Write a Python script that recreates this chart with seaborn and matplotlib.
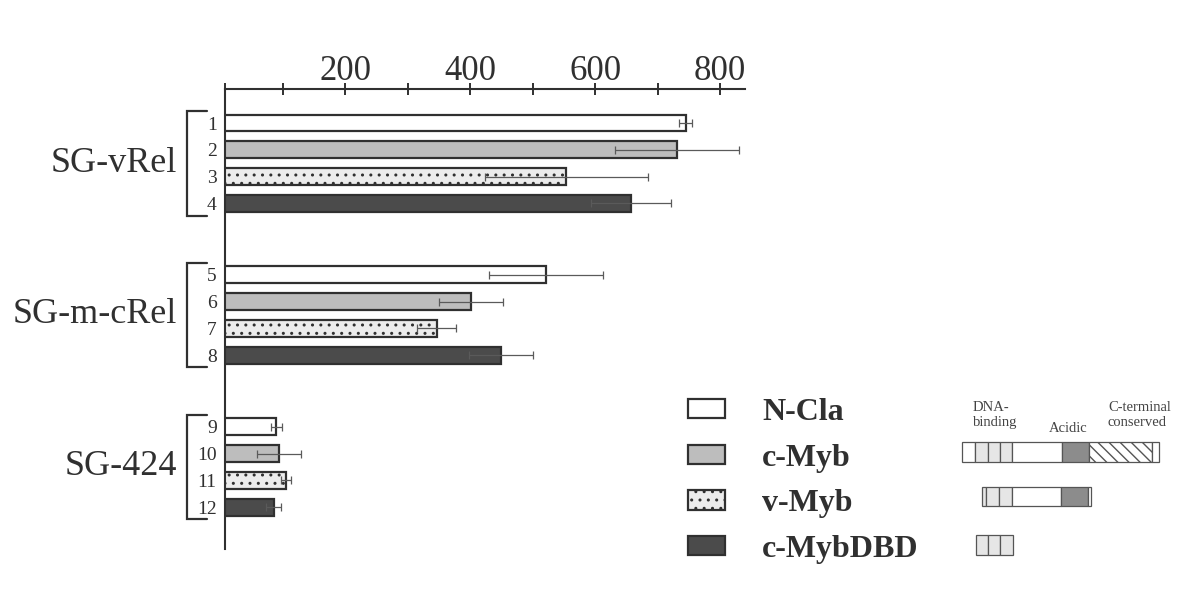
import numpy as np
import pandas as pd
import matplotlib
matplotlib.use("Agg")
import matplotlib.pyplot as plt
import matplotlib.transforms as mtransforms
from matplotlib.patches import Rectangle
from matplotlib.container import BarContainer
import seaborn as sns

# ---------------- data ----------------
constructs = ["N-Cla", "c-Myb", "v-Myb", "c-MybDBD"]
groups = ["SG-vRel", "SG-m-cRel", "SG-424"]
lane_labels = [str(i) for i in range(1, 13)]

ncla = [745, 521, 89]
cmyb = [731, 401, 93]
vmyb = [554, 346, 104]
dbd = [657, 449, 85]

ncla_err = [10, 91, 9]
cmyb_err = [100, 51, 35]
vmyb_err = [130, 31, 8]
dbd_err = [64, 51, 12]

x_major = [200, 400, 600, 800]
x_minor = [100, 300, 500, 700]

# ---------------- style ----------------
sns.set_theme(style="white")
plt.rcParams["font.family"] = ["Liberation Serif", "DejaVu Serif"]
plt.rcParams["hatch.linewidth"] = 1.0
INK = "#303030"

fig = plt.figure(figsize=(12, 5.97), dpi=100)
ax = fig.add_axes([225 / 1200, 1 - 549 / 597, 520 / 1200, 460 / 597])

series_vals = [ncla, cmyb, vmyb, dbd]
series_err = [ncla_err, cmyb_err, vmyb_err, dbd_err]
faces = ["white", "#bdbdbd", "#ececec", "#4b4b4b"]
hatches = [None, None, "..", None]
group_start = [0.0, 5.66, 11.33]
bar_h = 0.63

all_pos, all_val, all_err = [], [], []
for s, (name, vals, errs) in enumerate(zip(constructs, series_vals, series_err)):
    pos = [g + s for g in group_start]
    df = pd.DataFrame({"value": vals, "pos": pos})
    sns.barplot(data=df, x="value", y="pos", orient="h", native_scale=True,
                width=bar_h / np.min(np.diff(pos)), color=faces[s], saturation=1,
                edgecolor=INK, linewidth=1.6, errorbar=None, hatch=hatches[s],
                label=name, ax=ax)
    all_pos += pos
    all_val += vals
    all_err += errs

bar_handles = [c for c in ax.containers if isinstance(c, BarContainer)]

ax.errorbar(all_val, all_pos, xerr=all_err, fmt="none", ecolor="#5a5a5a",
            elinewidth=0.9, capsize=3, capthick=0.9, zorder=5)

axis_start = 7
ax.set_xlim(axis_start, 840)
ax.set_ylim(15.89, -1.27)
ax.xaxis.tick_top()
ax.set_xticks(x_major)
ax.set_xticks([axis_start] + x_minor, minor=True)
ax.set_xticklabels([str(v) for v in x_major])
ax.tick_params(axis="x", which="both", direction="inout", length=9, width=1.4,
               color=INK, top=True, bottom=False, labeltop=True,
               labelbottom=False, pad=-4, labelsize=25, labelcolor=INK)
order = np.argsort(all_pos)
ax.set_yticks(np.array(all_pos)[order], labels=lane_labels)
ax.tick_params(axis="y", length=0, pad=6, labelsize=14, labelcolor=INK)
ax.set_xlabel("")
ax.set_ylabel("")
ax.grid(False)
for side in ["right", "bottom"]:
    ax.spines[side].set_visible(False)
for side in ["top", "left"]:
    ax.spines[side].set_color(INK)
    ax.spines[side].set_linewidth(1.5)

# group brackets and labels
trans = mtransforms.blended_transform_factory(ax.transAxes, ax.transData)
xb, xa, xt = (187 - 225) / 520, (207 - 225) / 520, (177 - 225) / 520
for g, name in zip(group_start, groups):
    top, bot = g - 0.45, g + 3 + 0.45
    ax.plot([xa, xb, xb, xa], [top, top, bot, bot], color=INK, lw=1.6,
            transform=trans, clip_on=False, solid_joinstyle="miter")
    ax.text(xt, g + 1.5, name, transform=trans, ha="right", va="center",
            fontsize=26, color=INK)

# legend
ax.legend(handles=bar_handles, labels=constructs, loc="upper left",
          bbox_to_anchor=(688 / 1200, 1 - 398 / 597), bbox_transform=fig.transFigure,
          frameon=False, borderpad=0, borderaxespad=0, handlelength=1.16,
          handleheight=0.56, handletextpad=1.16, labelspacing=0.52,
          prop={"family": "Liberation Serif", "weight": "bold", "size": 23},
          labelcolor=INK)

# domain diagrams (pixel coordinates overlay)
dax = fig.add_axes([0, 0, 1, 1])
dax.set_xlim(0, 1200)
dax.set_ylim(597, 0)
dax.axis("off")
dax.patch.set_alpha(0)

seg_style = {
    "w": dict(facecolor="white", hatch=None),
    "r": dict(facecolor="#e6e6e6", hatch=None),
    "a": dict(facecolor="#8c8c8c", hatch=None),
    "c": dict(facecolor="white", hatch="\\\\\\"),
}
maps = [
    ((442, 462), [(962, 975, "w"), (975, 988, "r"), (988, 1000, "r"), (1000, 1012, "r"),
                  (1012, 1062, "w"), (1062, 1089, "a"), (1089, 1152, "c"), (1152, 1159, "w")]),
    ((487, 506), [(982, 986, "r"), (986, 999, "r"), (999, 1012, "r"),
                  (1012, 1061, "w"), (1061, 1088, "a"), (1088, 1091, "w")]),
    ((535, 555), [(976, 988, "r"), (988, 1000, "r"), (1000, 1013, "r")]),
]
for (y0, y1), segs in maps:
    for x0, x1, st in segs:
        dax.add_patch(Rectangle((x0, y0), x1 - x0, y1 - y0, edgecolor="#555555",
                                linewidth=0.9, **seg_style[st]))

dax.text(973, 401, "DNA-\nbinding", ha="left", va="top", fontsize=10.5,
         color="#444444", linespacing=1.2)
dax.text(1068, 429, "Acidic", ha="center", va="center", fontsize=10.5, color="#444444")
dax.text(1108, 401, "C-terminal\nconserved", ha="left", va="top", fontsize=10.5,
         color="#444444", linespacing=1.2)

fig.savefig("out.png", dpi=100)
